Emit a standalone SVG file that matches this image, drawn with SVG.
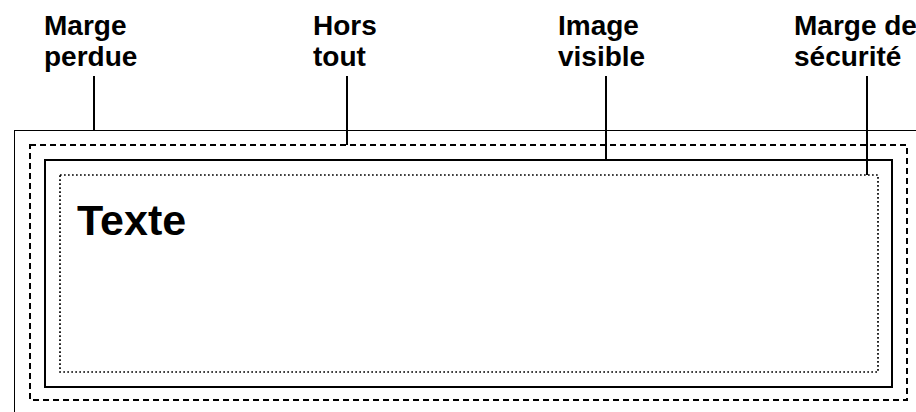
<svg xmlns="http://www.w3.org/2000/svg" width="916" height="412" viewBox="0 0 916 412">
<style>
.lbl{font-family:"Liberation Sans",Arial,sans-serif;font-weight:bold;font-size:28px;fill:#000}
.big{font-family:"Liberation Sans",Arial,sans-serif;font-weight:bold;font-size:43px;fill:#000}
.lead{stroke:#000;stroke-width:2;fill:none}
</style>
<rect width="916" height="412" fill="#fff"/>
<g id="marge-perdue">
<rect x="14.5" y="130.5" width="920" height="300" fill="none" stroke="#000" stroke-width="1"/>
<text class="lbl" x="44" y="35">Marge</text>
<text class="lbl" x="44" y="66">perdue</text>
</g>
<g id="hors-tout">
<rect x="30" y="145" width="877" height="255" fill="none" stroke="#000" stroke-width="2" stroke-dasharray="6 4"/>
<text class="lbl" x="313" y="35">Hors</text>
<text class="lbl" x="313" y="66">tout</text>
</g>
<g id="image-visible">
<rect x="45" y="160" width="847" height="227" fill="none" stroke="#000" stroke-width="2"/>
<text class="lbl" x="558" y="35">Image</text>
<text class="lbl" x="558" y="66">visible</text>
</g>
<g id="marge-securite">
<rect x="60" y="175" width="818" height="197" fill="none" stroke="#000" stroke-width="1.7" stroke-dasharray="1.7 2.3"/>
<text class="lbl" x="794" y="35">Marge de</text>
<text class="lbl" x="794" y="66">sécurité</text>
</g>
<g id="texte">
<text class="big" x="77" y="235">Texte</text>
</g>
<g id="connectors">
<line class="lead" x1="94" y1="76" x2="94" y2="130"/>
<line class="lead" x1="347" y1="76" x2="347" y2="145"/>
<line class="lead" x1="606" y1="76" x2="606" y2="160"/>
<line class="lead" x1="867" y1="76" x2="867" y2="175"/>
</g>
</svg>
